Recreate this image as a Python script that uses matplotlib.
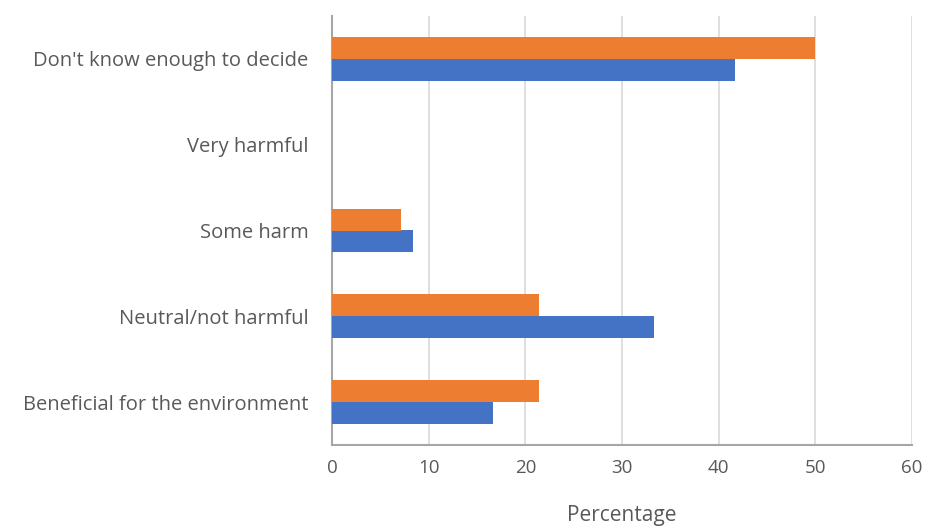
import numpy as np
import matplotlib.pyplot as plt

categories = ["Beneficial for the environment", "Neutral/not harmful", "Some harm",
              "Very harmful", "Don't know enough to decide"]
blue_vals = [16.67, 33.33, 8.33, 0, 41.67]
orange_vals = [21.43, 21.43, 7.14, 0, 50.0]
xticks = [0, 10, 20, 30, 40, 50, 60]

plt.rcParams['font.family'] = ['Open Sans', 'DejaVu Sans']
text_col = '#595959'

fig = plt.figure(figsize=(9.28, 5.27), dpi=100)
ax = fig.add_axes([332 / 928, 82 / 527, 580 / 928, 429 / 527])

y = np.arange(len(categories))
h = 0.256
ax.barh(y - h / 2, blue_vals, height=h, color='#4472C4', zorder=3)
ax.barh(y + h / 2, orange_vals, height=h, color='#ED7D31', zorder=3)

ax.set_xlim(0, 60)
ax.set_ylim(-0.5, 4.5)
ax.set_xticks(xticks)
ax.set_yticks(y)
ax.set_yticklabels(categories)
ax.grid(axis='x', color='#D9D9D9', linewidth=1.2, zorder=0)
ax.tick_params(axis='both', length=0, colors=text_col)
ax.tick_params(axis='x', pad=10, labelsize=13.5)
ax.tick_params(axis='y', pad=17, labelsize=14.5)
for s in ['top', 'right']:
    ax.spines[s].set_visible(False)
for s in ['left', 'bottom']:
    ax.spines[s].set_color('#A6A6A6')
    ax.spines[s].set_linewidth(1.5)
ax.set_xlabel('Percentage', color=text_col, fontsize=15, labelpad=20)

fig.savefig('out.png', dpi=100)
